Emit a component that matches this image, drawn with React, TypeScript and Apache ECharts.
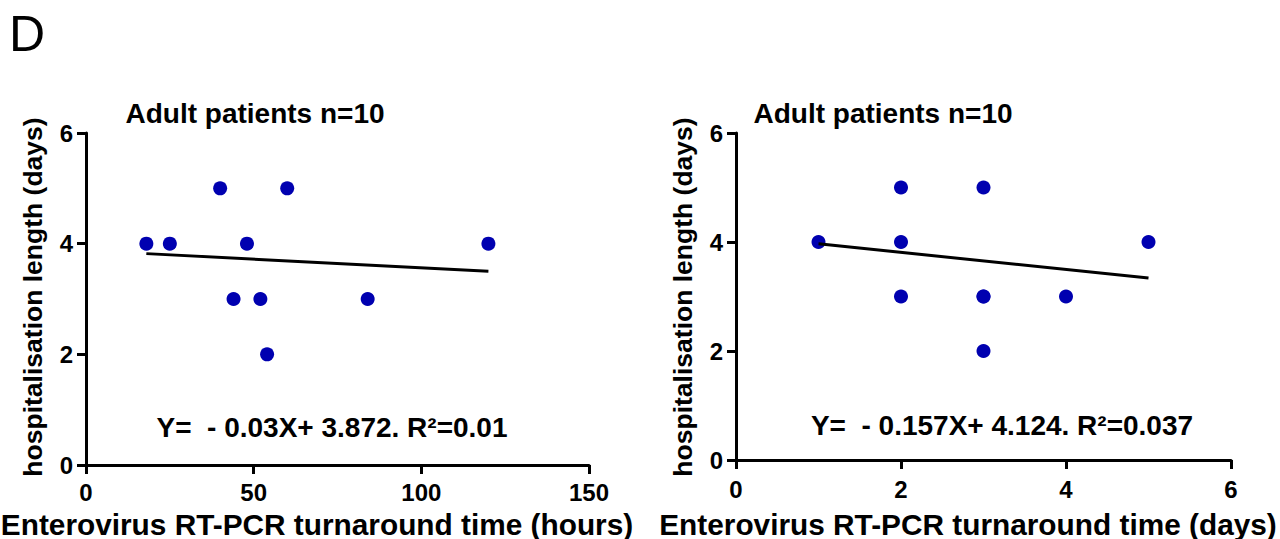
import React, { useEffect, useRef } from "react";
import * as echarts from "echarts";

// Left panel: turnaround time in hours
const leftX = [18, 25, 40, 44, 48, 52, 54, 60, 84, 120];
const leftY = [4, 4, 5, 3, 4, 3, 2, 5, 3, 4];
const leftFit = [
  [18, 3.82],
  [120, 3.5],
];
// Right panel: turnaround time in days
const rightX = [1, 2, 2, 2, 3, 3, 3, 3, 4, 5];
const rightY = [4, 5, 4, 3, 5, 3, 3, 2, 3, 4];
const rightFit = [
  [1, 3.967],
  [5, 3.339],
];

const panelTitle = "Adult patients n=10";
const yName = "hospitalisation length (days)";
const leftXName = "Enterovirus RT-PCR turnaround time (hours)";
const rightXName = "Enterovirus RT-PCR turnaround time (days)";
const leftEq = "Y=  - 0.03X+ 3.872. R²=0.01";
const rightEq = "Y=  - 0.157X+ 4.124. R²=0.037";

const FONT = "'Liberation Sans', Arial, sans-serif";

export default function App() {
  const ref = useRef<HTMLDivElement>(null);
  useEffect(() => {
    document.body.style.margin = "0";
    const chart = echarts.init(ref.current!, null, { renderer: "svg" });
    const axisCommon = {
      axisLine: { lineStyle: { color: "#000", width: 3 } },
      axisTick: { show: true, inside: false, length: 9, lineStyle: { color: "#000", width: 3 } },
      splitLine: { show: false },
      axisLabel: { color: "#000", fontFamily: FONT, fontWeight: "bold", fontSize: 24 },
    };
    const toPts = (xs: number[], ys: number[]) => xs.map((x, i) => [x, ys[i]]);
    const txt = (text: string, x: number, y: number, size: number, extra: any = {}) => ({
      type: "text",
      x,
      y,
      rotation: extra.rotation || 0,
      style: {
        text,
        fontFamily: FONT,
        fontWeight: extra.weight || "bold",
        fontSize: size,
        fill: "#000",
        align: "center",
        verticalAlign: "middle",
      },
    });
    chart.setOption({
      animation: false,
      backgroundColor: "#fff",
      grid: [
        { left: 86, top: 133, width: 503, height: 332 },
        { left: 736, top: 133, width: 495, height: 327 },
      ],
      xAxis: [
        {
          ...axisCommon,
          gridIndex: 0,
          type: "value",
          min: 0,
          max: 150,
          interval: 50,
          axisLabel: { ...axisCommon.axisLabel, margin: 15 },
        },
        {
          ...axisCommon,
          gridIndex: 1,
          type: "value",
          min: 0,
          max: 6,
          interval: 2,
          axisLabel: { ...axisCommon.axisLabel, margin: 17 },
        },
      ],
      yAxis: [
        {
          ...axisCommon,
          gridIndex: 0,
          type: "value",
          min: 0,
          max: 6,
          interval: 2,
          axisLabel: { ...axisCommon.axisLabel, margin: 13 },
        },
        {
          ...axisCommon,
          gridIndex: 1,
          type: "value",
          min: 0,
          max: 6,
          interval: 2,
          axisLabel: { ...axisCommon.axisLabel, margin: 13 },
        },
      ],
      series: [
        {
          type: "scatter",
          xAxisIndex: 0,
          yAxisIndex: 0,
          data: toPts(leftX, leftY),
          symbol: "circle",
          symbolSize: 14,
          itemStyle: { color: "#0000b0", opacity: 1 },
        },
        {
          type: "line",
          xAxisIndex: 0,
          yAxisIndex: 0,
          data: leftFit,
          symbol: "none",
          lineStyle: { color: "#000", width: 3 },
        },
        {
          type: "scatter",
          xAxisIndex: 1,
          yAxisIndex: 1,
          data: toPts(rightX, rightY),
          symbol: "circle",
          symbolSize: 14,
          itemStyle: { color: "#0000b0", opacity: 1 },
        },
        {
          type: "line",
          xAxisIndex: 1,
          yAxisIndex: 1,
          data: rightFit,
          symbol: "none",
          lineStyle: { color: "#000", width: 3 },
        },
      ],
      graphic: [
        txt("D", 27, 34, 50, { weight: "normal" }),
        txt(panelTitle, 255, 113, 28),
        txt(panelTitle, 883, 113, 28),
        txt(yName, 33, 297, 26.5, { rotation: Math.PI / 2 }),
        txt(yName, 683, 297, 26.5, { rotation: Math.PI / 2 }),
        txt(leftXName, 317, 524, 29.8),
        txt(rightXName, 968, 524, 29.8),
        txt(leftEq, 332, 427, 28),
        txt(rightEq, 1002, 425, 28),
      ],
    });
    return () => chart.dispose();
  }, []);
  return (
    <div
      ref={ref}
      style={{ position: "absolute", left: 0, top: 0, width: 1280, height: 539 }}
    />
  );
}
